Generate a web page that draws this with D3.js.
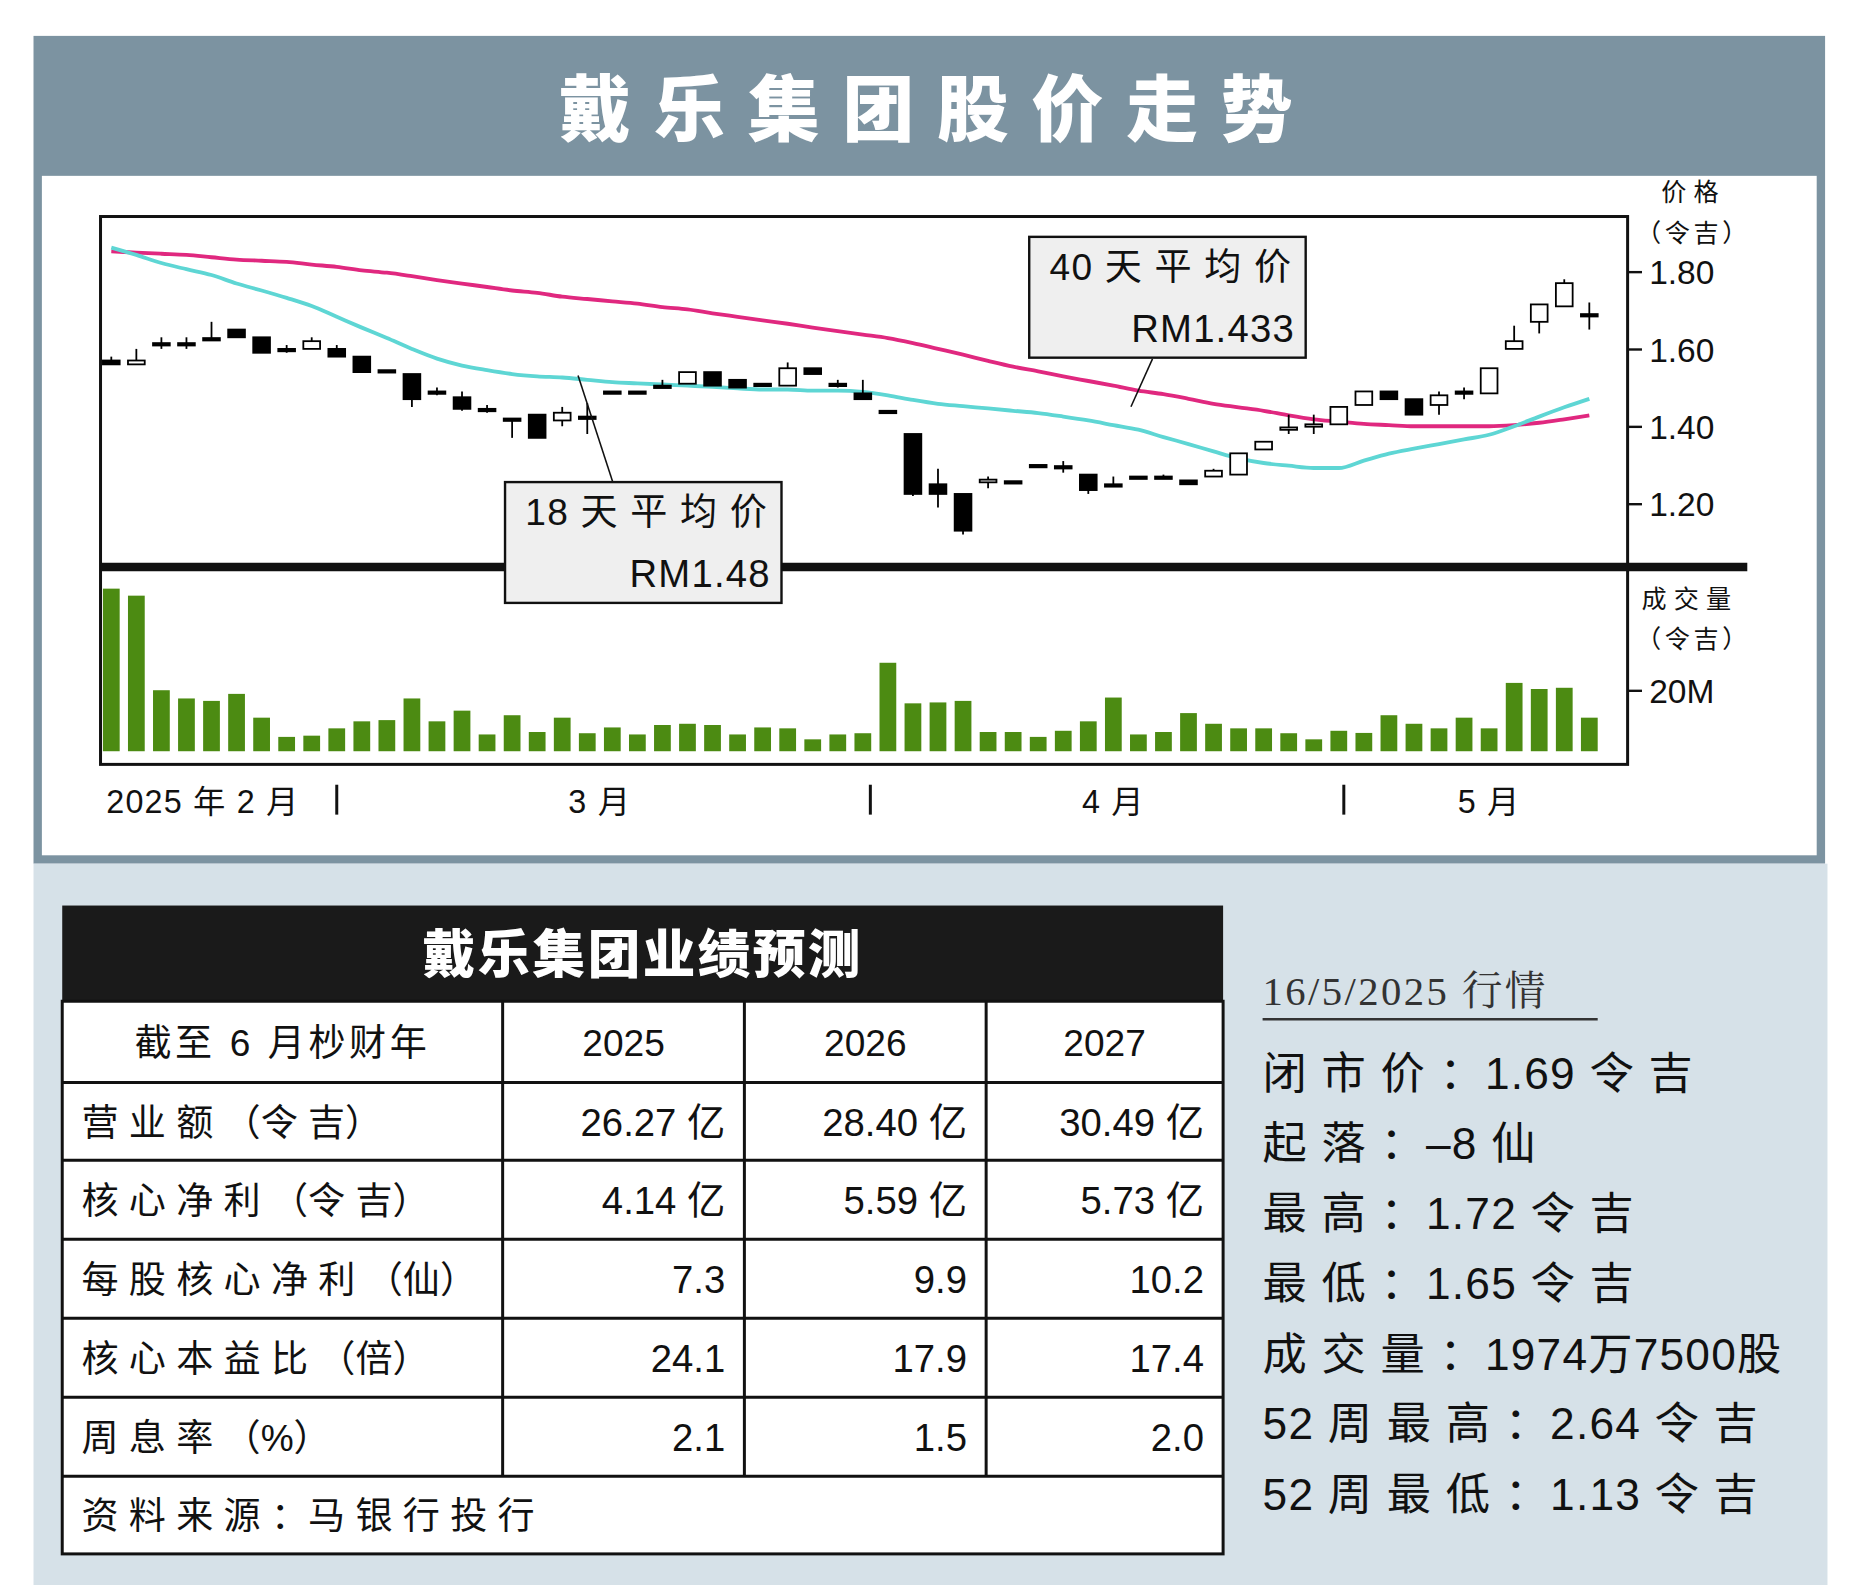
<!DOCTYPE html>
<html><head><meta charset="utf-8">
<script src="https://cdn.jsdelivr.net/npm/d3@7"></script>
<style>body{margin:0;background:#fff}svg{display:block}</style></head>
<body><svg id="c" width="1855" height="1585" viewBox="0 0 1550 1325" preserveAspectRatio="none"></svg>
<script>
const opens  = [1.57,1.56,1.615,1.615,1.628,1.65,1.63,1.60,1.60,1.60,1.58,1.545,1.535,1.49,1.475,1.445,1.42,1.43,1.415,1.425,1.49,1.49,1.505,1.51,1.54,1.52,1.51,1.505,1.55,1.51,1.485,1.44,1.38,1.25,1.225,1.255,1.258,1.30,1.297,1.275,1.25,1.27,1.27,1.26,1.27,1.275,1.34,1.395,1.403,1.405,1.455,1.49,1.47,1.455,1.49,1.485,1.60,1.67,1.71,1.69];
const closes = [1.56,1.57,1.615,1.615,1.628,1.63,1.59,1.60,1.62,1.58,1.54,1.545,1.47,1.49,1.445,1.445,1.42,1.37,1.435,1.425,1.49,1.49,1.505,1.54,1.505,1.50,1.51,1.55,1.535,1.51,1.47,1.44,1.225,1.225,1.13,1.262,1.258,1.30,1.293,1.235,1.25,1.27,1.265,1.25,1.285,1.33,1.36,1.397,1.405,1.45,1.49,1.47,1.43,1.48,1.49,1.55,1.62,1.715,1.77,1.69];
const highs  = [1.58,1.60,1.63,1.63,1.67,1.65,1.63,1.61,1.63,1.61,1.58,1.545,1.535,1.50,1.49,1.455,1.42,1.43,1.45,1.46,1.49,1.49,1.52,1.54,1.54,1.52,1.51,1.565,1.55,1.52,1.52,1.44,1.38,1.29,1.225,1.27,1.258,1.30,1.31,1.275,1.27,1.27,1.275,1.26,1.29,1.33,1.36,1.43,1.43,1.45,1.49,1.49,1.47,1.49,1.50,1.55,1.66,1.715,1.78,1.72];
const lows   = [1.56,1.56,1.60,1.60,1.625,1.63,1.59,1.59,1.60,1.58,1.54,1.545,1.45,1.48,1.44,1.435,1.37,1.37,1.40,1.38,1.49,1.49,1.505,1.51,1.505,1.50,1.51,1.505,1.535,1.50,1.47,1.44,1.22,1.19,1.12,1.24,1.258,1.30,1.28,1.225,1.25,1.265,1.265,1.25,1.27,1.275,1.34,1.38,1.38,1.405,1.455,1.47,1.43,1.43,1.47,1.485,1.60,1.64,1.71,1.65];
const volumes = [53.3,51,20,17.3,16.5,18.8,11,4.7,5.1,7.5,9.8,10.2,17.3,9.8,13.3,5.5,11.8,6.3,11,5.9,7.8,5.5,8.6,9,8.6,5.5,7.8,7.5,3.9,5.5,5.9,29,15.7,16,16.5,6.3,6.3,4.7,6.7,9.8,17.6,5.5,6.3,12.5,9,7.5,7.5,5.9,3.9,6.7,6,11.8,9,7.5,11,7.5,22.4,20.4,20.8,11];
const ma18 = [1.862,1.843,1.822,1.806,1.791,1.769,1.751,1.732,1.711,1.683,1.655,1.628,1.600,1.575,1.557,1.545,1.535,1.529,1.526,1.520,1.514,1.511,1.508,1.505,1.502,1.498,1.495,1.495,1.492,1.492,1.489,1.480,1.468,1.458,1.452,1.446,1.440,1.434,1.425,1.415,1.403,1.391,1.372,1.354,1.335,1.317,1.305,1.298,1.292,1.292,1.311,1.329,1.342,1.354,1.366,1.378,1.400,1.425,1.449,1.471];
const ma40 = [1.852,1.849,1.846,1.843,1.837,1.831,1.828,1.825,1.818,1.812,1.803,1.797,1.788,1.778,1.769,1.760,1.751,1.745,1.735,1.729,1.723,1.717,1.708,1.702,1.692,1.683,1.674,1.665,1.655,1.646,1.637,1.628,1.615,1.600,1.585,1.569,1.554,1.542,1.529,1.517,1.505,1.492,1.483,1.471,1.458,1.449,1.440,1.428,1.418,1.412,1.406,1.403,1.400,1.400,1.400,1.400,1.403,1.409,1.418,1.428];
const priceTicks = [1.20,1.40,1.60,1.80];
const volTicks = [20];
const monthLabels = [{t:"2025 年 2 月",i:-0.2,a:"start"},{t:"3 月",i:19.5,a:"middle"},{t:"4 月",i:40,a:"middle"},{t:"5 月",i:55,a:"middle"}];
const monthBreaks = [9, 30.3, 49.2];
const tableHead = ["截至 6 月杪财年","2025","2026","2027"];
const tableRows = [["营 业 额 （令 吉）","26.27 亿","28.40 亿","30.49 亿"],["核 心 净 利 （令 吉）","4.14 亿","5.59 亿","5.73 亿"],["每 股 核 心 净 利 （仙）","7.3","9.9","10.2"],["核 心 本 益 比 （倍）","24.1","17.9","17.4"],["周 息 率 （%）","2.1","1.5","2.0"]];
const sideLines = ["闭 市 价 ：1.69 令 吉","起 落 ：–8 仙","最 高 ：1.72 令 吉","最 低 ：1.65 令 吉","成 交 量 ：1974万7500股","52 周 最 高 ：2.64 令 吉","52 周 最 低 ：1.13 令 吉"];

const svg = d3.select("#c");
const F = "'Liberation Sans','Noto Sans CJK SC',sans-serif";
svg.append("rect").attr("width",1550).attr("height",1325).attr("fill","#fff");
svg.append("rect").attr("x",28).attr("y",30).attr("width",1497).attr("height",692).attr("fill","#7c93a1");
svg.append("rect").attr("x",35).attr("y",147).attr("width",1483).attr("height",568).attr("fill","#fff");
svg.append("rect").attr("x",28).attr("y",722).attr("width",1499).attr("height",603).attr("fill","#d6e1e8");
svg.append("text").attr("x",783).attr("y",113).attr("text-anchor","middle").attr("font-family","'Noto Sans CJK SC'").attr("font-weight",900).attr("font-size",60).attr("letter-spacing",19).attr("fill","#fff").text("戴乐集团股价走势");

const x = d3.scaleLinear().domain([0,59]).range([93,1328]);
const y = d3.scaleLinear().domain([1.20,1.80]).range([421,227]);
const yv = d3.scaleLinear().domain([0,20]).range([628,577]);
const g = svg.append("g");
g.selectAll(".v").data(volumes).join("rect").attr("x",(d,i)=>x(i)-7).attr("width",14).attr("y",d=>yv(d)).attr("height",d=>yv(0)-yv(d)).attr("fill","#4c8b12");
const line = d3.line().x((d,i)=>x(i)).y(d=>y(d)).curve(d3.curveMonotoneX);
g.append("path").attr("d",line(ma40)).attr("fill","none").attr("stroke","#e0287f").attr("stroke-width",3.2);
g.append("path").attr("d",line(ma18)).attr("fill","none").attr("stroke","#5ed6d4").attr("stroke-width",3.2);
const idx = d3.range(opens.length);
const cg = g.selectAll(".c").data(idx).join("g");
cg.append("line").attr("x1",i=>x(i)).attr("x2",i=>x(i)).attr("y1",i=>y(highs[i])).attr("y2",i=>y(lows[i])).attr("stroke","#000").attr("stroke-width",1.5);
cg.append("rect").attr("x",i=>x(i)-7).attr("width",14)
  .attr("y",i=>y(Math.max(opens[i],closes[i])))
  .attr("height",i=>Math.max(2,Math.abs(y(opens[i])-y(closes[i]))))
  .attr("fill",i=>closes[i]>opens[i]?"#fff":"#000").attr("stroke","#000").attr("stroke-width",1.5);
svg.append("rect").attr("x",84).attr("y",181).attr("width",1276).attr("height",458).attr("fill","none").attr("stroke","#111").attr("stroke-width",2.5);
svg.append("line").attr("x1",84).attr("x2",1460).attr("y1",474).attr("y2",474).attr("stroke","#111").attr("stroke-width",7);
const ay = svg.append("g").attr("transform","translate(1360,0)").call(d3.axisRight(y).tickValues(priceTicks).tickFormat(d3.format(".2f")).tickSize(12).tickSizeOuter(0));
const av = svg.append("g").attr("transform","translate(1360,0)").call(d3.axisRight(yv).tickValues(volTicks).tickFormat(d=>d+"M").tickSize(12).tickSizeOuter(0));
[ay,av].forEach(a=>{a.select(".domain").remove();a.selectAll("line").attr("stroke","#111").attr("stroke-width",2);a.selectAll("text").attr("font-family",F).attr("font-size",28).attr("fill","#111").attr("x",18).attr("dy","0.36em");});
const lab=(t,xx,yy,s,anc,ls)=>svg.append("text").attr("x",xx).attr("y",yy).attr("font-family",F).attr("font-size",s).attr("fill","#111").attr("text-anchor",anc||"start").attr("letter-spacing",ls||0).text(t);
lab("价格",1415,168,21,"middle",6);lab("（令吉）",1415,202,21,"middle",3);
lab("成交量",1412,508,21,"middle",6);lab("（令吉）",1415,542,21,"middle",3);
monthLabels.forEach(m=>lab(m.t,x(m.i),680,27,m.a,1));
monthBreaks.forEach(b=>svg.append("line").attr("x1",x(b)).attr("x2",x(b)).attr("y1",656).attr("y2",681).attr("stroke","#111").attr("stroke-width",2.5));
function callout(bx,by,t1,t2,lx1,ly1,lx2,ly2){
  svg.append("line").attr("x1",lx1).attr("y1",ly1).attr("x2",lx2).attr("y2",ly2).attr("stroke","#111").attr("stroke-width",1.3);
  svg.append("rect").attr("x",bx).attr("y",by).attr("width",231).attr("height",101).attr("fill","#efefef").attr("stroke","#111").attr("stroke-width",2);
  lab(t1,bx+17,by+36,31,"start",1);lab(t2,bx+222,by+88,32,"end",1);
}
callout(860,198,"40 天 平 均 价","RM1.433",963,300,945,340);
callout(422,403,"18 天 平 均 价","RM1.48",512,403,483,314);
svg.append("rect").attr("x",52).attr("y",757).attr("width",970).attr("height",80).attr("fill","#1a1a1a");
svg.append("text").attr("x",537).attr("y",813).attr("text-anchor","middle").attr("font-family","'Noto Sans CJK SC'").attr("font-weight",900).attr("font-size",44).attr("letter-spacing",2).attr("fill","#fff").text("戴乐集团业绩预测");
const rowY=[837,905,970,1036,1102,1168,1234,1299];
const colX=[52,420,622,824,1022];
svg.append("rect").attr("x",52).attr("y",837).attr("width",970).attr("height",462).attr("fill","#fff").attr("stroke","#111").attr("stroke-width",2.5);
rowY.slice(1,-1).forEach(r=>svg.append("line").attr("x1",52).attr("x2",1022).attr("y1",r).attr("y2",r).attr("stroke","#111").attr("stroke-width",2.5));
colX.slice(1,-1).forEach(c=>svg.append("line").attr("x1",c).attr("x2",c).attr("y1",837).attr("y2",1234).attr("stroke","#111").attr("stroke-width",2.5));
tableHead.forEach((h,j)=>lab(h,j==0?236:(colX[j]+colX[j+1])/2,883,31,"middle",j==0?3:0));
tableRows.forEach((r,i)=>r.forEach((c,j)=>{const yy=rowY[i+1]+45;
  if(j==0) lab(c,68,yy,31,"start",0); else lab(c,colX[j+1]-16,yy,32,"end",0);}));
lab("资 料 来 源 ：马 银 行 投 行",68,1278,31,"start",0);
lab("16/5/2025 行情",1055,840,34,"start",2).attr("font-family","'Liberation Serif','Noto Serif CJK SC',serif").attr("fill","#333");
svg.append("line").attr("x1",1055).attr("x2",1335).attr("y1",852).attr("y2",852).attr("stroke","#333").attr("stroke-width",2);
const sy=[910,969,1027,1086,1145,1203,1262];
sideLines.forEach((t,i)=>lab(t,1055,sy[i],37,"start",1));
</script></body></html>
